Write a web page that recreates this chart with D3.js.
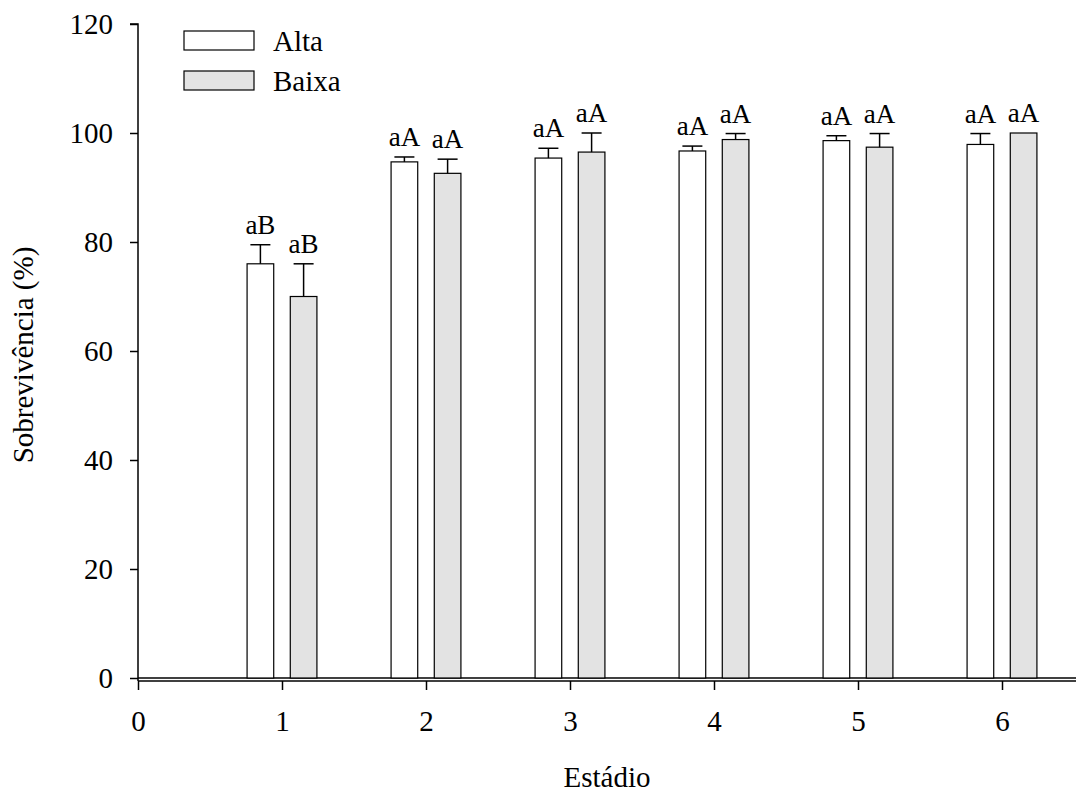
<!DOCTYPE html>
<html><head><meta charset="utf-8">
<script src="https://cdn.jsdelivr.net/npm/d3@7/dist/d3.min.js"></script>
<style>body{margin:0;background:#fff;} svg text{font-family:"Liberation Serif","Times New Roman",Times,serif !important;}</style>
</head><body><svg id="c" width="1077" height="797"></svg>
<script>
const stages = [1, 2, 3, 4, 5, 6];
const seriesNames = ["Alta", "Baixa"];
const altaValues = [76.0, 94.7, 95.4, 96.7, 98.6, 97.9];
const altaErrors = [3.5, 0.9, 1.8, 0.9, 0.9, 2.0];
const baixaValues = [70.0, 92.6, 96.5, 98.8, 97.4, 100];
const baixaErrors = [6.0, 2.6, 3.5, 1.1, 2.5, 0];
const altaLabels = ["aB", "aA", "aA", "aA", "aA", "aA"];
const baixaLabels = ["aB", "aA", "aA", "aA", "aA", "aA"];
const xTicks = [0, 1, 2, 3, 4, 5, 6];
const yTicks = [0, 20, 40, 60, 80, 100, 120];

const FONT = '"Liberation Serif","Times New Roman",Times,serif';
const svg = d3.select("#c");
const x = d3.scaleLinear().domain([0, 6.5]).range([138, 1074]);
const y = d3.scaleLinear().domain([0, 120]).range([678, 24]);
const fills = ["#ffffff", "#e3e3e3"];
const barW = 0.185, off = 0.15;

const series = [
  {vals: altaValues, errs: altaErrors, labs: altaLabels, dx: -off, fill: fills[0]},
  {vals: baixaValues, errs: baixaErrors, labs: baixaLabels, dx: off, fill: fills[1]}
];

// baseline at y=0
svg.append("line").attr("x1", x(0)).attr("x2", 1076).attr("y1", y(0)).attr("y2", y(0))
  .attr("stroke", "#000").attr("stroke-width", 1.5);

series.forEach(s => {
  const g = svg.append("g");
  stages.forEach((st, i) => {
    const x0 = x(st + s.dx - barW / 2), x1 = x(st + s.dx + barW / 2);
    g.append("rect").attr("x", x0).attr("y", y(s.vals[i])).attr("width", x1 - x0)
      .attr("height", y(0) - y(s.vals[i])).attr("fill", s.fill).attr("stroke", "#000").attr("stroke-width", 1.2);
    const cx = x(st + s.dx);
    if (s.errs[i] > 0) {
      const top = y(s.vals[i] + s.errs[i]);
      g.append("line").attr("x1", cx).attr("x2", cx).attr("y1", y(s.vals[i])).attr("y2", top)
        .attr("stroke", "#000").attr("stroke-width", 1.5);
      g.append("line").attr("x1", cx - 10).attr("x2", cx + 10).attr("y1", top).attr("y2", top)
        .attr("stroke", "#000").attr("stroke-width", 1.5);
    }
    g.append("text").attr("x", cx).attr("y", y(s.vals[i] + s.errs[i]) - 11)
      .attr("text-anchor", "middle").style("font-family", FONT).style("font-size", "27px").text(s.labs[i]);
  });
});

// Y axis
const yAxis = d3.axisLeft(y).tickValues(yTicks).tickSize(8).tickPadding(17).tickFormat(d3.format("d"));
const yg = svg.append("g").attr("transform", `translate(${x(0)},0)`).call(yAxis);
yg.select(".domain").attr("stroke-width", 1.5).attr("d", `M-8,${y(120)}H0V${y(0)+3}`);
yg.selectAll(".tick line").attr("stroke-width", 1.5);
yg.selectAll(".tick text").style("font-size", "29px").style("font-family", FONT).attr("fill", "#000");

// X axis
const xAxis = d3.axisBottom(x).tickValues(xTicks).tickSize(9).tickPadding(20).tickFormat(d3.format("d"));
const xg = svg.append("g").attr("transform", `translate(0,${y(0) + 3})`).call(xAxis);
xg.select(".domain").attr("stroke-width", 1.5).attr("d", `M${x(0)},0H1076`);
xg.selectAll(".tick line").attr("stroke-width", 1.5);
xg.selectAll(".tick text").style("font-size", "29px").style("font-family", FONT).attr("fill", "#000");

// Axis titles
svg.append("text").attr("x", (x(0) + 1076) / 2).attr("y", 787).attr("text-anchor", "middle")
  .style("font-family", FONT).style("font-size", "29px").text("Estádio");
svg.append("text").attr("transform", `translate(33,${(y(120) + y(0)) / 2 + 4}) rotate(-90)`).attr("text-anchor", "middle")
  .style("font-family", FONT).style("font-size", "29px").text("Sobrevivência (%)");

// Legend
seriesNames.forEach((n, i) => {
  svg.append("rect").attr("x", 184).attr("y", 31 + i * 40).attr("width", 70).attr("height", 19)
    .attr("fill", fills[i]).attr("stroke", "#000").attr("stroke-width", 1.2);
  svg.append("text").attr("x", 273).attr("y", 51 + i * 40)
    .style("font-family", FONT).style("font-size", "29px").text(n);
});
</script></body></html>
